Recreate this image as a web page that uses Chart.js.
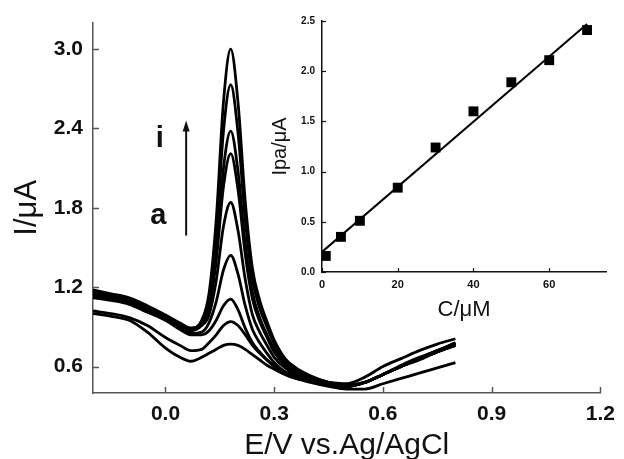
<!DOCTYPE html>
<html>
<head>
<meta charset="utf-8">
<script src="https://cdn.jsdelivr.net/npm/chart.js@4/dist/chart.umd.min.js"></script>
<style>
  html, body { margin: 0; padding: 0; background: #fff; }
  #wrap { position: relative; width: 624px; height: 459px; }
  #main { position: absolute; left: 0; top: 0; }
  #inset { position: absolute; left: 250px; top: 0; }
</style>
</head>
<body>
<div id="wrap">
  <canvas id="main" width="624" height="459"></canvas>
  <canvas id="inset" width="374" height="330"></canvas>
</div>
<script>
// potential axis (V vs Ag/AgCl), shared by all voltammograms
const potential = [-0.2, -0.15, -0.1, -0.05, 0, 0.04, 0.07, 0.1, 0.12, 0.14, 0.16, 0.18, 0.2, 0.22,
  0.24, 0.26, 0.28, 0.3, 0.33, 0.36, 0.4, 0.45, 0.5, 0.55, 0.6, 0.65, 0.7, 0.75, 0.8];

// currents (uA), curves a..i
const curveA = [1.00, 0.98, 0.95, 0.86, 0.74, 0.67, 0.64, 0.67, 0.70, 0.73, 0.76, 0.77, 0.76, 0.73,
  0.69, 0.65, 0.61, 0.58, 0.54, 0.51, 0.48, 0.45, 0.43, 0.43, 0.47, 0.51, 0.55, 0.59, 0.63];
const curveB = [1.02, 1.00, 0.97, 0.91, 0.82, 0.76, 0.72, 0.73, 0.78, 0.84, 0.91, 0.94, 0.91, 0.84,
  0.76, 0.70, 0.65, 0.61, 0.56, 0.53, 0.50, 0.48, 0.47, 0.52, 0.60, 0.66, 0.72, 0.77, 0.81];
const curveC = [1.12, 1.10, 1.07, 1.01, 0.95, 0.88, 0.84, 0.84, 0.87, 0.95, 1.06, 1.11, 1.03, 0.89,
  0.78, 0.71, 0.65, 0.60, 0.54, 0.51, 0.49, 0.47, 0.45, 0.48, 0.54, 0.60, 0.66, 0.71, 0.76];
const curveD = [1.13, 1.11, 1.08, 1.02, 0.95, 0.89, 0.85, 0.86, 0.93, 1.09, 1.33, 1.44, 1.30, 1.06,
  0.88, 0.78, 0.70, 0.63, 0.56, 0.53, 0.49, 0.47, 0.45, 0.48, 0.54, 0.60, 0.65, 0.71, 0.76];
const curveE = [1.14, 1.12, 1.09, 1.03, 0.96, 0.91, 0.87, 0.91, 0.99, 1.25, 1.66, 1.84, 1.63, 1.26,
  0.99, 0.86, 0.76, 0.67, 0.59, 0.54, 0.50, 0.47, 0.45, 0.48, 0.54, 0.60, 0.66, 0.71, 0.77];
const curveF = [1.15, 1.13, 1.10, 1.04, 0.97, 0.91, 0.88, 0.92, 1.04, 1.40, 1.96, 2.21, 1.94, 1.45,
  1.11, 0.94, 0.82, 0.71, 0.61, 0.56, 0.51, 0.47, 0.45, 0.48, 0.54, 0.60, 0.66, 0.72, 0.77];
const curveG = [1.16, 1.14, 1.10, 1.05, 0.98, 0.92, 0.88, 0.93, 1.07, 1.46, 2.10, 2.38, 2.08, 1.53,
  1.16, 0.97, 0.84, 0.73, 0.62, 0.56, 0.52, 0.48, 0.45, 0.48, 0.54, 0.60, 0.66, 0.72, 0.77];
const curveH = [1.17, 1.14, 1.11, 1.05, 0.98, 0.92, 0.89, 0.94, 1.11, 1.60, 2.38, 2.73, 2.37, 1.71,
  1.26, 1.04, 0.90, 0.77, 0.64, 0.58, 0.52, 0.48, 0.46, 0.48, 0.54, 0.60, 0.66, 0.72, 0.78];
const curveI = [1.18, 1.15, 1.12, 1.06, 0.99, 0.93, 0.89, 0.95, 1.15, 1.71, 2.60, 3.00, 2.60, 1.85,
  1.34, 1.10, 0.94, 0.80, 0.66, 0.59, 0.53, 0.48, 0.46, 0.48, 0.54, 0.61, 0.67, 0.72, 0.78];

const mainXTicks = [0, 0.3, 0.6, 0.9, 1.2];
const mainYTicks = [0.6, 1.2, 1.8, 2.4, 3.0];

// inset: calibration plot
const conc = [1, 5, 10, 20, 30, 40, 50, 60, 70];
const ipa = [0.16, 0.35, 0.51, 0.84, 1.24, 1.60, 1.89, 2.11, 2.41];
const fitConc = [0, 70];
const fitIpa = [0.20, 2.47];
const insetXTicks = [0, 20, 40, 60];
const insetYTicks = [0, 0.5, 1.0, 1.5, 2.0, 2.5];

const FONT = "'Liberation Sans', Arial, sans-serif";

const toPoints = (xs, ys) => xs.map((x, i) => ({ x, y: ys[i] }));
const fixTicks = (values) => (scale) => {
  scale.ticks = values.map((value) => ({ value }));
};

// ticks pointing into the plot area
const innerTicks = {
  id: 'innerTicks',
  afterDraw(chart, args, opts) {
    const { ctx, chartArea, scales } = chart;
    ctx.save();
    ctx.strokeStyle = opts.color;
    ctx.lineWidth = opts.width;
    for (const t of scales.x.ticks) {
      const px = Math.round(scales.x.getPixelForValue(t.value)) + 0.5;
      ctx.beginPath();
      ctx.moveTo(px, chartArea.bottom);
      ctx.lineTo(px, chartArea.bottom - opts.length);
      ctx.stroke();
    }
    for (const t of scales.y.ticks) {
      const py = Math.round(scales.y.getPixelForValue(t.value)) + 0.5;
      ctx.beginPath();
      ctx.moveTo(chartArea.left, py);
      ctx.lineTo(chartArea.left + opts.length, py);
      ctx.stroke();
    }
    ctx.restore();
  },
};

// "a" -> "i" arrow, given in data units
const arrowNote = {
  id: 'arrowNote',
  afterDatasetsDraw(chart, args, opts) {
    const { ctx, scales: { x, y } } = chart;
    const ax = x.getPixelForValue(opts.x);
    const y0 = y.getPixelForValue(opts.from);
    const y1 = y.getPixelForValue(opts.to);
    ctx.save();
    ctx.strokeStyle = '#111';
    ctx.fillStyle = '#111';
    ctx.lineWidth = 2;
    ctx.beginPath();
    ctx.moveTo(ax, y0);
    ctx.lineTo(ax, y1 + 6);
    ctx.stroke();
    ctx.beginPath();
    ctx.moveTo(ax, y1);
    ctx.lineTo(ax - 3.5, y1 + 11);
    ctx.lineTo(ax + 3.5, y1 + 11);
    ctx.closePath();
    ctx.fill();
    ctx.font = `bold 29px ${FONT}`;
    ctx.textAlign = 'center';
    ctx.textBaseline = 'middle';
    for (const lab of opts.labels) {
      ctx.fillText(lab.text, x.getPixelForValue(lab.x), y.getPixelForValue(lab.y));
    }
    ctx.restore();
  },
};

const curves = [curveA, curveB, curveC, curveD, curveE, curveF, curveG, curveH, curveI];
const names = ['a', 'b', 'c', 'd', 'e', 'f', 'g', 'h', 'i'];

new Chart(document.getElementById('main'), {
  type: 'line',
  data: {
    datasets: curves.map((c, k) => ({
      label: names[k],
      data: toPoints(potential, c),
      borderColor: '#000',
      borderWidth: 2.8,
      pointRadius: 0,
      fill: false,
      cubicInterpolationMode: 'monotone',
    })),
  },
  options: {
    responsive: false,
    animation: false,
    layout: { padding: { top: 15, right: 17, left: 0, bottom: 0 } },
    plugins: {
      legend: { display: false },
      tooltip: { enabled: false },
      innerTicks: { color: '#555', width: 1.5, length: 6 },
      arrowNote: {
        x: 0.057, from: 1.59, to: 2.46,
        labels: [{ text: 'i', x: -0.016, y: 2.32 }, { text: 'a', x: -0.02, y: 1.74 }],
      },
    },
    scales: {
      x: {
        type: 'linear',
        min: -0.2,
        max: 1.2,
        afterBuildTicks: fixTicks(mainXTicks),
        afterFit: (s) => { s.height = 66; },
        grid: { display: false, drawTicks: false },
        border: { display: true, color: '#555', width: 1.5 },
        ticks: {
          padding: 9,
          color: '#111',
          font: { family: FONT, size: 21, weight: 'bold' },
          maxRotation: 0,
          callback: (v) => v.toFixed(1),
        },
        title: {
          display: true,
          text: 'E/V vs.Ag/AgCl',
          color: '#111',
          font: { family: FONT, size: 30, lineHeight: 0.8 },
          padding: { top: 0, bottom: 1 },
        },
      },
      y: {
        type: 'linear',
        min: 0.4,
        max: 3.2,
        afterBuildTicks: fixTicks(mainYTicks),
        afterFit: (s) => { s.width = 93; },
        grid: { display: false, drawTicks: false },
        border: { display: true, color: '#555', width: 1.5 },
        ticks: {
          padding: 10,
          color: '#111',
          font: { family: FONT, size: 21, weight: 'bold' },
          callback: (v) => v.toFixed(1),
        },
        title: {
          display: true,
          text: 'I/\u03bcA',
          color: '#111',
          font: { family: FONT, size: 31 },
          padding: { top: 9, bottom: 0 },
        },
      },
    },
  },
  plugins: [innerTicks, arrowNote],
});

new Chart(document.getElementById('inset'), {
  type: 'scatter',
  data: {
    datasets: [
      {
        label: 'Ipa',
        data: toPoints(conc, ipa),
        pointStyle: 'rect',
        pointRadius: 7,
        backgroundColor: '#000',
        borderColor: '#000',
        borderWidth: 0,
      },
      {
        label: 'fit',
        type: 'line',
        data: toPoints(fitConc, fitIpa),
        borderColor: '#000',
        borderWidth: 2,
        pointRadius: 0,
      },
    ],
  },
  options: {
    responsive: false,
    animation: false,
    layout: { padding: { top: 21, right: 18, left: 0, bottom: 0 } },
    plugins: {
      legend: { display: false },
      tooltip: { enabled: false },
      innerTicks: { color: '#111', width: 1.2, length: 4 },
    },
    scales: {
      x: {
        type: 'linear',
        min: 0,
        max: 75,
        afterBuildTicks: fixTicks(insetXTicks),
        afterFit: (s) => { s.height = 58; },
        grid: { display: false, drawTicks: false },
        border: { display: true, color: '#111', width: 1.5 },
        ticks: {
          padding: 6,
          color: '#111',
          font: { family: FONT, size: 11, weight: 'bold' },
          maxRotation: 0,
          callback: (v) => String(v),
        },
        title: {
          display: true,
          text: 'C/\u03bcM',
          color: '#111',
          font: { family: FONT, size: 22 },
          padding: { top: 0, bottom: 7 },
        },
      },
      y: {
        type: 'linear',
        min: 0,
        max: 2.5,
        afterBuildTicks: fixTicks(insetYTicks),
        afterFit: (s) => { s.width = 72; },
        grid: { display: false, drawTicks: false },
        border: { display: true, color: '#111', width: 1.5 },
        ticks: {
          padding: 7,
          color: '#111',
          font: { family: FONT, size: 10, weight: 'bold' },
          callback: (v) => v.toFixed(1),
        },
        title: {
          display: true,
          text: 'Ipa/\u03bcA',
          color: '#111',
          font: { family: FONT, size: 20 },
          padding: { top: 18, bottom: 0 },
        },
      },
    },
  },
  plugins: [innerTicks],
});
</script>
</body>
</html>
